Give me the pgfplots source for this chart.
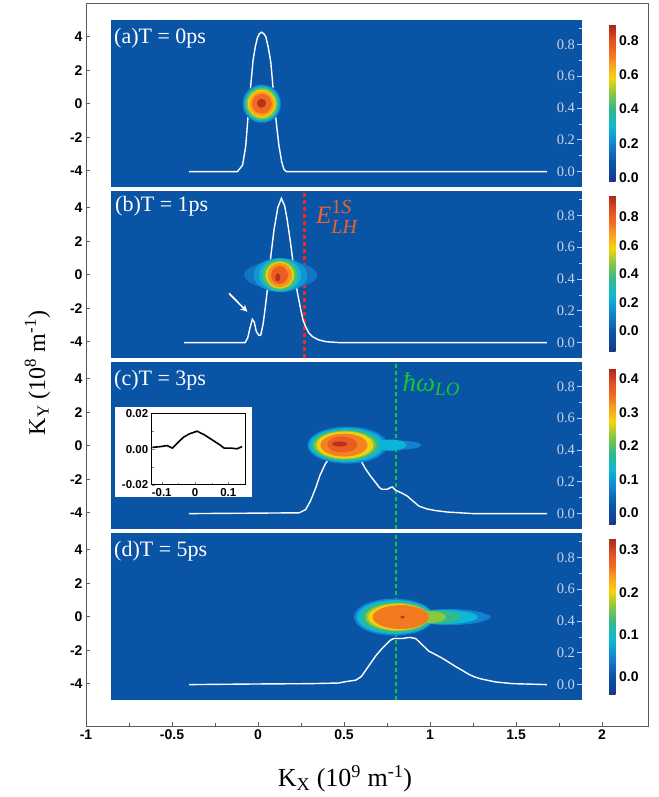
\documentclass[border=0pt]{standalone}
\usepackage{fontspec}
\setmainfont{Liberation Serif}
\setsansfont{Liberation Sans}
\usepackage{amsmath}
\usepackage{pgfplots}
\pgfplotsset{compat=1.18}
\usetikzlibrary{arrows.meta}

\definecolor{bgblue}{RGB}{10,84,166}
\definecolor{tickgray}{RGB}{200,212,232}
\definecolor{elhcol}{RGB}{238,98,42}
\definecolor{redline}{RGB}{245,40,30}
\definecolor{locol}{RGB}{20,200,50}
\definecolor{framegray}{RGB}{90,90,90}

% filled ellipse mark, radii come from the table (rx, ry in pt)
\pgfdeclareplotmark{blob}{%
  \pgfpathellipse{\pgfpointorigin}{\pgfqpoint{\rx pt}{0pt}}{\pgfqpoint{0pt}{\ry pt}}%
  \pgfusepathqfill}

\newcommand{\tickfont}{\fontsize{14}{16}\selectfont\sffamily\bfseries}

\tikzset{plabel/.style={anchor=base west, text=white, font=\fontsize{22}{24}\selectfont, inner sep=0pt}}

\pgfplotsset{
  colormap={origin}{
    rgb255(0pt)=(30,50,130); rgb255(5pt)=(12,70,155); rgb255(12pt)=(10,84,166);
    rgb255(24pt)=(20,130,210); rgb255(35pt)=(10,185,215); rgb255(46pt)=(50,185,140);
    rgb255(57pt)=(140,200,60); rgb255(66pt)=(250,210,10); rgb255(75pt)=(248,160,30);
    rgb255(82pt)=(243,110,35); rgb255(90pt)=(230,80,30); rgb255(100pt)=(165,40,30)},
  panel/.style={
    scale only axis, width=471pt, height=167.5pt, anchor=south west,
    xmin=-0.855, xmax=1.884, ymin=-0.1, ymax=0.954,
    axis x line=none, axis y line*=right, y axis line style={draw=none},
    axis background/.style={fill=bgblue},
    ytick={0,0.2,0.4,0.6,0.8}, minor ytick={0.1,0.3,0.5,0.7,0.9},
    tick align=inside, major tick length=5pt, minor tick length=3pt,
    every tick/.append style={tickgray, line width=0.7pt},
    yticklabel style={font=\fontsize{14.5}{16}\selectfont, text=tickgray, anchor=east, xshift=-3.5pt,
      /pgf/number format/.cd, fixed, fixed zerofill, precision=1},
    /pgf/number format/assume math mode=true,
    colormap name=origin, colorbar right,
  },
  cbar/.style={width=6.5pt, height=156.5pt, at={(parent axis.north east)}, anchor=north west,
    xshift=18.5pt, axis line style={draw=none}, major tick length=0pt,
    yticklabel style={font=\tickfont, /pgf/number format/.cd, fixed, fixed zerofill, precision=1},
    /pgf/number format/assume math mode=true},
  blobs/.style={scatter, only marks, mark=blob, point meta=explicit,
    visualization depends on={value \thisrow{rx}\as\rx},
    visualization depends on={value \thisrow{ry}\as\ry},
    scatter/use mapped color={draw=none, fill=mapped color}},
  curve/.style={white, line width=1.4pt, mark=none},
  vline/.style={line width=2.1pt, dash pattern=on 4.5pt off 2.5pt},
}

\begin{document}
\begin{tikzpicture}
\useasboundingbox (0,0) rectangle (658pt,797pt);

% outer frame with the shared Kx axis and the Ky ticks of every panel
\begin{axis}[scale only axis, at={(86pt,71pt)}, anchor=south west, width=562pt, height=723pt,
  xmin=-1, xmax=2.267, ymin=71, ymax=794,
  xtick={-1,-0.5,0,0.5,1,1.5,2}, minor xtick={-0.75,-0.25,0.25,0.75,1.25,1.75},
  ytick={113.3,146.8,180.3,213.8,247.3, 284.3,317.8,351.3,384.8,418.3,
         455.3,488.8,522.3,555.8,589.3, 626.3,659.8,693.3,726.8,760.3},
  yticklabels={-4,-2,0,2,4,-4,-2,0,2,4,-4,-2,0,2,4,-4,-2,0,2,4},
  tick align=inside, major tick length=4pt, minor tick length=3pt,
  xtick pos=bottom, ytick pos=left,
  axis line style={framegray, line width=0.9pt},
  every tick/.append style={framegray, line width=0.8pt},
  ticklabel style={font=\tickfont},
  /pgf/number format/assume math mode=true,
]
\end{axis}

% (a) T = 0ps
\begin{axis}[panel, at={(111pt,609.5pt)}, point meta min=-0.023, point meta max=0.892,
  colorbar style={cbar, yshift=-5pt, ytick={0,0.2,0.4,0.6,0.8}}]
\addplot[blobs] table[meta=v]{
x y rx ry v
0.022 0.427 19.5 19.5 0.15
0.022 0.427 18.5 18.5 0.25
0.022 0.427 17 17 0.37
0.022 0.427 15.5 15.5 0.48
0.022 0.427 14 14 0.57
0.022 0.427 12.5 12.5 0.66
0.022 0.427 10 10 0.74
0.020 0.430 4.5 4.5 0.87
};
\addplot[curve] coordinates {
(-0.40,0) (-0.12,0) (-0.09,0.04) (-0.072,0.157) (-0.062,0.29) (-0.052,0.432)
(-0.04,0.57) (-0.029,0.70) (-0.015,0.79) (-0.004,0.84) (0.008,0.868) (0.021,0.877)
(0.033,0.868) (0.045,0.85) (0.06,0.78) (0.074,0.69) (0.084,0.57) (0.093,0.44)
(0.108,0.29) (0.122,0.16) (0.138,0.06) (0.151,0.013) (0.165,0) (1.68,0)};
\node[plabel, xshift=3pt, yshift=-24pt] at (rel axis cs:0,1) {(a)T = 0ps};
\end{axis}

% (b) T = 1ps
\begin{axis}[panel, at={(111pt,438.5pt)}, point meta min=-0.145, point meta max=0.952,
  colorbar style={cbar, yshift=-4pt, ytick={0,0.2,0.4,0.6,0.8}}]
\addplot[blobs] table[meta=v]{
x y rx ry v
0.132 0.425 36.5 14 0.08
0.130 0.425 27 17 0.16
0.128 0.425 21 16.5 0.27
0.127 0.425 17.5 15 0.40
0.127 0.425 14.5 13.5 0.55
0.127 0.425 12 12 0.70
0.125 0.425 8.5 9 0.80
0.115 0.410 2.5 4 0.93
};
\addplot[redline, vline] coordinates {(0.27,-0.1) (0.27,0.954)};
\addplot[curve] coordinates {
(-0.43,0) (-0.075,0) (-0.06,0.03) (-0.045,0.10) (-0.033,0.147) (-0.022,0.13)
(-0.010,0.07) (0.005,0.045) (0.016,0.048) (0.03,0.12) (0.042,0.22) (0.054,0.33)
(0.075,0.55) (0.093,0.71) (0.115,0.85) (0.136,0.908) (0.155,0.86) (0.17,0.77)
(0.19,0.62) (0.209,0.46) (0.228,0.32) (0.248,0.21) (0.262,0.14) (0.277,0.10)
(0.296,0.06) (0.316,0.038) (0.35,0.018) (0.394,0.006) (0.47,0) (1.68,0)};
\draw[white, line width=1.6pt, -{Stealth[length=7pt,width=7pt]}]
  (axis cs:-0.169,0.31) -- (axis cs:-0.062,0.194);
\node[anchor=base west, text=elhcol, font=\fontsize{25}{27}\selectfont\itshape, inner sep=0pt]
  at (axis cs:0.337,0.75)
  {E\rlap{\raisebox{10pt}{\fontsize{20}{20}\selectfont\upshape 1\itshape S}}\raisebox{-10pt}{\fontsize{20}{20}\selectfont LH}};
\node[plabel, xshift=4pt, yshift=-21pt] at (rel axis cs:0,1) {(b)T = 1ps};
\end{axis}

% (c) T = 3ps
\begin{axis}[panel, at={(111pt,267.5pt)}, point meta min=-0.035, point meta max=0.432,
  colorbar style={cbar, yshift=-6.3pt, ytick={0,0.1,0.2,0.3,0.4}}]
\addplot[blobs] table[meta=v]{
x y rx ry v
0.52 0.431 40 18.5 0.075
0.82 0.431 22 4.5 0.075
0.515 0.431 37.5 17 0.125
0.77 0.431 16 5.5 0.125
0.51 0.431 34 15.5 0.18
0.505 0.431 31 14.5 0.22
0.505 0.431 28.5 13.5 0.27
0.50 0.431 23.5 11.5 0.335
0.49 0.435 15 8 0.37
0.475 0.438 7.5 2.5 0.42
};
\addplot[locol, vline] coordinates {(0.8,-0.1) (0.8,0.954)};
\addplot[curve] coordinates {
(-0.40,0) (0.0,0.003) (0.24,0.005) (0.277,0.025) (0.305,0.08) (0.335,0.16) (0.36,0.24)
(0.39,0.31) (0.42,0.36) (0.45,0.39) (0.48,0.41) (0.51,0.42) (0.54,0.405) (0.568,0.376)
(0.60,0.33) (0.626,0.28) (0.655,0.235) (0.684,0.195) (0.705,0.165) (0.72,0.153)
(0.75,0.153) (0.78,0.168) (0.80,0.147) (0.835,0.13) (0.868,0.11) (0.90,0.08)
(0.936,0.047) (0.98,0.03) (1.033,0.019) (1.10,0.01) (1.19,0.004) (1.25,0) (1.68,0)};
\node[anchor=base west, text=locol, font=\fontsize{27}{29}\selectfont, inner sep=0pt]
  at (axis cs:0.84,0.77) {\textit{ħω}\textsubscript{\textit{LO}}};
\node[plabel, xshift=3pt, yshift=-24pt] at (rel axis cs:0,1) {(c)T = 3ps};
\end{axis}

% inset of panel (c)
\fill[white] (115pt,300.3pt) rectangle (252.3pt,390.3pt);
\begin{axis}[scale only axis, at={(151.7pt,312pt)}, anchor=south west, width=93.3pt, height=71.7pt,
  xmin=-0.13, xmax=0.15, ymin=-0.02, ymax=0.02,
  xtick={-0.1,0,0.1}, minor xtick={-0.05,0.05}, ytick={-0.02,0,0.02}, minor ytick={-0.01,0.01},
  tick align=inside, major tick length=3pt, minor tick length=2pt, tick pos=left,
  axis line style={line width=1pt},
  ticklabel style={font=\fontsize{11.5}{13}\selectfont\sffamily\bfseries},
  yticklabel style={/pgf/number format/.cd, fixed, fixed zerofill, precision=2},
  scaled x ticks=false, scaled y ticks=false,
  /pgf/number format/assume math mode=true,
]
\addplot[black, line width=1.6pt] coordinates {
(-0.128,0.0010) (-0.104,0.0014) (-0.084,0.0020) (-0.068,0.0006) (-0.055,0.0030)
(-0.035,0.0066) (-0.016,0.0086) (0.006,0.0100) (0.028,0.0080) (0.053,0.0050)
(0.073,0.0026) (0.087,0.0006) (0.107,0.0006) (0.126,0.0002) (0.141,0.0014)};
\end{axis}

% (d) T = 5ps
\begin{axis}[panel, at={(111pt,96.5pt)}, point meta min=-0.043, point meta max=0.328,
  colorbar style={cbar, yshift=-5.3pt, ytick={0,0.1,0.2,0.3}}]
\addplot[blobs] table[meta=v]{
x y rx ry v
0.79 0.425 40 18.5 0.046
1.11 0.425 40 8 0.046
1.25 0.425 18 4 0.046
0.795 0.425 38 17 0.087
1.08 0.425 34 7 0.087
0.80 0.425 35 15.5 0.128
1.04 0.425 24 6.5 0.128
0.81 0.425 32 14 0.168
1.00 0.425 16 6 0.168
0.815 0.425 30 13 0.20
0.83 0.425 28 12 0.255
0.84 0.425 2 1.5 0.315
};
\addplot[locol, vline] coordinates {(0.8,-0.1) (0.8,0.954)};
\addplot[curve] coordinates {
(-0.40,0) (0.0,0.004) (0.30,0.006) (0.47,0.01) (0.50,0.017) (0.568,0.028) (0.60,0.05)
(0.626,0.09) (0.655,0.135) (0.684,0.18) (0.715,0.22) (0.742,0.25) (0.77,0.28)
(0.79,0.29) (0.84,0.29) (0.88,0.297) (0.917,0.29) (0.955,0.25) (0.994,0.21)
(1.03,0.19) (1.07,0.167) (1.11,0.14) (1.15,0.113) (1.19,0.088) (1.227,0.064)
(1.26,0.048) (1.30,0.035) (1.38,0.017) (1.48,0.006) (1.68,0)};
\node[plabel, xshift=3pt, yshift=-24pt] at (rel axis cs:0,1) {(d)T = 5ps};
\end{axis}

% axis titles
\node[rotate=90, anchor=base, font=\fontsize{24}{26}\selectfont] at (45pt,424pt)
  {K\textsubscript{Y} (10\textsuperscript{8} m\textsuperscript{-1})};
\node[anchor=base, font=\fontsize{26}{28}\selectfont] at (345pt,10.3pt)
  {K\textsubscript{X} (10\textsuperscript{9} m\textsuperscript{-1})};
\end{tikzpicture}
\end{document}
